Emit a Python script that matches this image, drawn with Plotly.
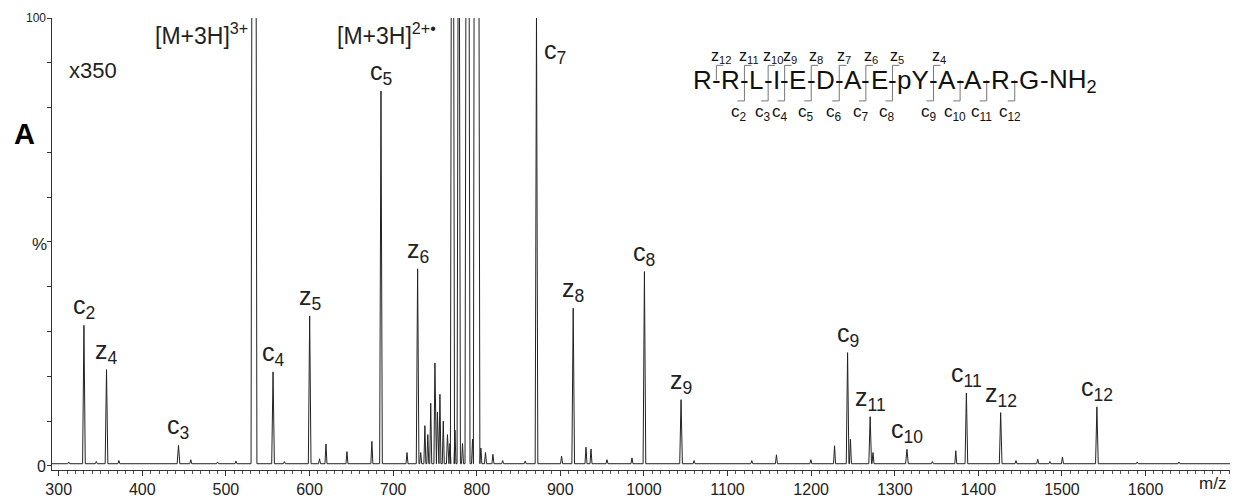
import plotly.graph_objects as go

# ---------------- data ----------------
# labelled fragment ions: name, m/z, relative intensity (% of the x350 scale)
ion_names = ["c2", "z4", "c3", "c4", "z5", "c5", "z6", "c7", "z8", "c8", "z9",
             "c9", "z11", "c10", "c11", "z12", "c12"]
ion_mz = [330.2, 357.2, 443.3, 556.4, 600.2, 685.5, 729.3, 871.5, 915.4, 1000.6,
          1044.4, 1243.6, 1270.6, 1314.6, 1385.7, 1426.7, 1541.8]
ion_int = [31.4, 21.5, 4.6, 21.0, 33.5, 83.7, 44.0, 101.0, 35.2, 43.4, 14.8,
           25.3, 11.0, 3.7, 16.3, 11.9, 13.2]

# off-scale precursor-related peaks (clipped at 100)
prec_mz = [533.6, 771.0, 778.5, 789.0, 799.5]
prec_int = [400.0, 250.0, 180.0, 300.0, 420.0]
prec_w = [3.5, 2.5, 2.0, 3.0, 3.5]

# smaller unlabelled peaks
minor_mz = [312.0, 345.0, 372.0, 458.0, 490.0, 512.0, 570.0, 612.0, 619.7, 644.8,
            674.6, 716.6, 733.0, 738.0, 741.5, 745.0, 750.0, 753.0, 756.0, 760.0,
            765.0, 768.0, 774.0, 783.0, 795.0, 805.0, 810.5, 819.4, 831.0, 858.0,
            901.5, 930.7, 936.7, 955.8, 985.7, 1060.0, 1129.0, 1158.5, 1199.7,
            1228.0, 1247.0, 1274.0, 1345.0, 1373.0, 1445.0, 1471.0, 1485.6,
            1500.6, 1590.0, 1640.0]
minor_int = [0.9, 1.0, 1.2, 1.4, 0.9, 1.1, 1.0, 1.6, 4.9, 3.2,
             5.5, 3.0, 3.0, 9.0, 7.0, 14.0, 23.0, 12.0, 16.0, 10.0,
             7.0, 5.0, 8.0, 5.0, 6.0, 4.0, 3.0, 2.6, 1.2, 1.1,
             2.2, 4.2, 3.8, 1.4, 1.8, 1.2, 1.2, 2.5, 1.4,
             4.5, 6.0, 3.0, 1.0, 3.4, 1.2, 1.5, 1.0,
             2.0, 0.9, 0.9]

baseline_level = 0.5

x_ticks = list(range(300, 1700, 100))

# peptide sequence and observed cleavages
seq_tokens = ["R", "R", "L", "I", "E", "D", "A", "E", "pY", "A", "A", "R", "G", "NH2"]
z_cleavage = {0: "12", 1: "11", 2: "10", 3: "9", 4: "8", 5: "7", 6: "6", 7: "5", 8: "4"}
c_cleavage = {1: "2", 2: "3", 3: "4", 4: "5", 5: "6", 6: "7", 7: "8", 8: "9",
              9: "10", 10: "11", 11: "12"}

# ---------------- build the profile from the peak list ----------------
peaks = []
for m, h in zip(ion_mz, ion_int):
    peaks.append((m, h, 1.6))
for m, h, w in zip(prec_mz, prec_int, prec_w):
    peaks.append((m, h, w))
for m, h in zip(minor_mz, minor_int):
    peaks.append((m, h, 1.2))
peaks.sort()

X_MIN, X_MAX = 292.0, 1701.0
xs = [X_MIN]
ys = [baseline_level]
for m, h, w in peaks:
    xs += [m - w, m, m + w]
    ys += [baseline_level, h, baseline_level]
xs.append(X_MAX)
ys.append(baseline_level)

FONT = "Liberation Sans, Arial, sans-serif"
INK = "#222222"

fig = go.Figure()
fig.add_trace(go.Scatter(x=xs, y=ys, mode="lines",
                         line=dict(color=INK, width=1), hoverinfo="skip",
                         showlegend=False))

# ---------------- geometry helpers (pixel -> paper) ----------------
W_TOT, H_TOT = 1234, 502
PL, PR, PT, PB = 52, 1230, 18, 476


def xp(px):
    return (px - PL) / (PR - PL)


def yp(py):
    return (PB - py) / (PB - PT)


ann = []

# peak labels
for name, m, h in zip(ion_names, ion_mz, ion_int):
    letter, num = name[0], name[1:]
    txt = f"{letter}<sub>{num}</sub>"
    if name == "c7":
        ann.append(dict(x=m, xref="x", xanchor="left", xshift=6,
                        y=yp(52), yref="paper", yanchor="middle",
                        text=txt, showarrow=False,
                        font=dict(family=FONT, size=25, color=INK)))
    else:
        ann.append(dict(x=m, xref="x", y=h, yref="y", xanchor="center",
                        yanchor="bottom", text=txt, showarrow=False,
                        font=dict(family=FONT, size=25, color=INK)))

# precursor labels
ann.append(dict(x=xp(250), y=yp(34), xref="paper", yref="paper", xanchor="right",
                yanchor="middle", text="[M+3H]<sup>3+</sup>", showarrow=False,
                font=dict(family=FONT, size=23, color=INK)))
ann.append(dict(x=xp(438), y=yp(34), xref="paper", yref="paper", xanchor="right",
                yanchor="middle", text="[M+3H]<sup>2+•</sup>", showarrow=False,
                font=dict(family=FONT, size=23, color=INK)))

# magnification and panel letter
ann.append(dict(x=xp(67), y=yp(71), xref="paper", yref="paper", xanchor="left",
                yanchor="middle", text="x350", showarrow=False,
                font=dict(family=FONT, size=22, color=INK)))
ann.append(dict(x=xp(24), y=yp(136), xref="paper", yref="paper", xanchor="center",
                yanchor="middle", text="<b>A</b>", showarrow=False,
                font=dict(family=FONT, size=29, color="#000000")))

# y-axis labels
ann.append(dict(x=xp(48), y=yp(18), xref="paper", yref="paper", xanchor="right",
                yanchor="middle", text="100", showarrow=False,
                font=dict(family=FONT, size=12, color=INK)))
ann.append(dict(x=xp(49), y=yp(247), xref="paper", yref="paper", xanchor="right",
                yanchor="middle", text="%", showarrow=False,
                font=dict(family=FONT, size=17, color=INK)))
ann.append(dict(x=xp(48), y=yp(472), xref="paper", yref="paper", xanchor="right",
                yanchor="middle", text="0", showarrow=False,
                font=dict(family=FONT, size=16, color=INK)))
# x-axis unit
ann.append(dict(x=xp(1212), y=yp(490), xref="paper", yref="paper", xanchor="center",
                yanchor="middle", text="m/z", showarrow=False,
                font=dict(family=FONT, size=17, color=INK)))

# ---------------- sequence with fragment brackets ----------------
CW = {'R': .722, 'L': .556, 'I': .278, 'E': .667, 'D': .722, 'A': .667, 'p': .556,
      'Y': .667, 'G': .778, 'N': .722, 'H': .722, '-': .333}
FS_SEQ = 26
GAP = 0.3
SEQ_X0 = 693
SEQ_Y = 81


def tok_width(t):
    if t == "NH2":
        return (CW['N'] + CW['H']) * FS_SEQ + 0.556 * FS_SEQ * 0.7
    return sum(CW[ch] for ch in t) * FS_SEQ


shapes = []
xcur = SEQ_X0
dash_w = CW['-'] * FS_SEQ
for i, t in enumerate(seq_tokens):
    w = tok_width(t)
    txt = "NH<sub>2</sub>" if t == "NH2" else t
    ann.append(dict(x=xp(xcur + w / 2), y=yp(SEQ_Y), xref="paper", yref="paper",
                    xanchor="center", yanchor="middle", text=txt, showarrow=False,
                    borderpad=0, font=dict(family=FONT, size=FS_SEQ, color="#111111")))
    xcur += w
    if i < len(seq_tokens) - 1:
        xcur += GAP
        xd = xcur + dash_w / 2
        ann.append(dict(x=xp(xd), y=yp(SEQ_Y), xref="paper", yref="paper",
                        xanchor="center", yanchor="middle", text="-", showarrow=False,
                        borderpad=0, font=dict(family=FONT, size=FS_SEQ, color="#111111")))
        if i in z_cleavage:
            shapes.append(dict(type="path", xref="paper", yref="paper",
                               path=f"M {xp(xd)} {yp(SEQ_Y)} L {xp(xd)} {yp(66)} L {xp(xd + 7)} {yp(66)}",
                               line=dict(color="#777777", width=1)))
            ann.append(dict(x=xp(xd + 5), y=yp(57), xref="paper", yref="paper",
                            xanchor="center", yanchor="middle",
                            text=f"z<sub>{z_cleavage[i]}</sub>", showarrow=False,
                            borderpad=0, font=dict(family=FONT, size=16, color="#111111")))
        if i in c_cleavage:
            shapes.append(dict(type="path", xref="paper", yref="paper",
                               path=f"M {xp(xd)} {yp(SEQ_Y)} L {xp(xd)} {yp(102)} L {xp(xd - 7)} {yp(102)}",
                               line=dict(color="#777777", width=1)))
            ann.append(dict(x=xp(xd - 5), y=yp(114), xref="paper", yref="paper",
                            xanchor="center", yanchor="middle",
                            text=f"c<sub>{c_cleavage[i]}</sub>", showarrow=False,
                            borderpad=0, font=dict(family=FONT, size=17, color="#111111")))
        xcur += dash_w + GAP

fig.update_layout(
    width=W_TOT, height=H_TOT, autosize=False,
    margin=dict(l=PL, r=W_TOT - PR, t=PT, b=H_TOT - PB, pad=0),
    paper_bgcolor="white", plot_bgcolor="white",
    annotations=ann, shapes=shapes, showlegend=False,
    font=dict(family=FONT, color=INK),
)
fig.update_xaxes(range=[X_MIN, X_MAX], showgrid=False, zeroline=False,
                 showline=True, linecolor="#333333", linewidth=1,
                 tickmode="array", tickvals=x_ticks, ticks="outside", ticklen=5,
                 tickcolor="#333333", tickfont=dict(family=FONT, size=16, color=INK),
                 minor=dict(dtick=10, ticks="outside", ticklen=3, tickcolor="#555555"))
fig.update_yaxes(range=[-0.9, 100], showgrid=False, zeroline=False,
                 showline=True, linecolor="#333333", linewidth=1,
                 tickmode="array", tickvals=list(range(0, 101, 10)), ticks="outside",
                 ticklen=4, tickcolor="#333333", showticklabels=False)

fig.write_html("out.html",
               config={"displayModeBar": False},
               post_script="document.body.style.margin='0';"
                           "document.body.style.padding='0';"
                           "document.body.style.overflow='hidden';")
